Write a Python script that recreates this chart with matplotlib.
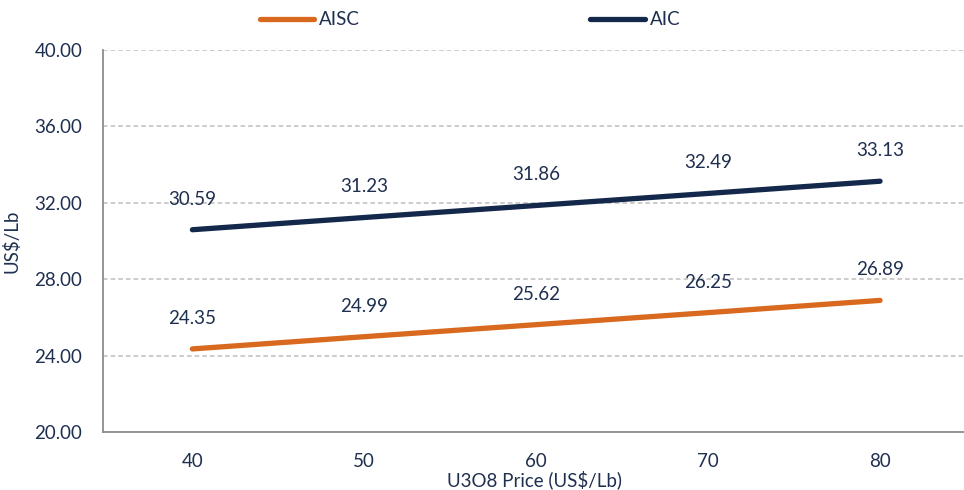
import numpy as np
import matplotlib.pyplot as plt

# data
prices = ["40", "50", "60", "70", "80"]
aisc = [24.35, 24.99, 25.62, 26.25, 26.89]
aic = [30.59, 31.23, 31.86, 32.49, 33.13]
yticks = [20, 24, 28, 32, 36, 40]

navy = "#14284b"
orange = "#d9691f"
txt = "#1f2f4f"
fs = 13.5

plt.rcParams['font.family'] = ['Lato', 'DejaVu Sans']

fig = plt.figure(figsize=(9.64, 4.9), dpi=100)
ax = fig.add_axes([103/964, 1-432/490, 863/964, 382/490])

x = np.arange(len(prices))
ax.plot(x, aisc, color=orange, lw=3.8, solid_capstyle='round', label="AISC")
ax.plot(x, aic, color=navy, lw=3.8, solid_capstyle='round', label="AIC")

for xi, v in zip(x, aisc):
    ax.annotate("%.2f" % v, (xi, v), xytext=(0, 22), textcoords='offset points',
                ha='center', va='center', fontsize=fs, color=txt)
for xi, v in zip(x, aic):
    ax.annotate("%.2f" % v, (xi, v), xytext=(0, 22), textcoords='offset points',
                ha='center', va='center', fontsize=fs, color=txt)

ax.set_xlim(-0.52, len(prices) - 0.5)
ax.set_ylim(20, 40)
ax.set_xticks(x)
ax.set_xticklabels(prices)
ax.set_yticks(yticks)
ax.set_yticklabels(["%.2f" % t for t in yticks])
ax.tick_params(axis='both', length=0, labelsize=fs, labelcolor=txt)
ax.tick_params(axis='x', pad=15)
ax.tick_params(axis='y', pad=15)
ax.grid(axis='y', color='#bfbfbf', ls=(0, (3, 2)), lw=1.1)
ax.set_axisbelow(True)
for s in ['top', 'right']:
    ax.spines[s].set_visible(False)
for s in ['left', 'bottom']:
    ax.spines[s].set_color('#8c8c8c')
    ax.spines[s].set_linewidth(1.3)

ax.set_xlabel("U3O8 Price (US$/Lb)", fontsize=fs, color=txt, labelpad=0)
ax.set_ylabel("US$/Lb", fontsize=fs, color=txt)
ax.yaxis.set_label_coords(-82/863, 0.5)

ax.legend(loc='upper left', bbox_to_anchor=(140/863, 1.145), ncol=2, frameon=False,
          fontsize=fs, labelcolor=txt, handlelength=2.9, handletextpad=0.25,
          columnspacing=12.3)

fig.savefig("out.png", dpi=100)
